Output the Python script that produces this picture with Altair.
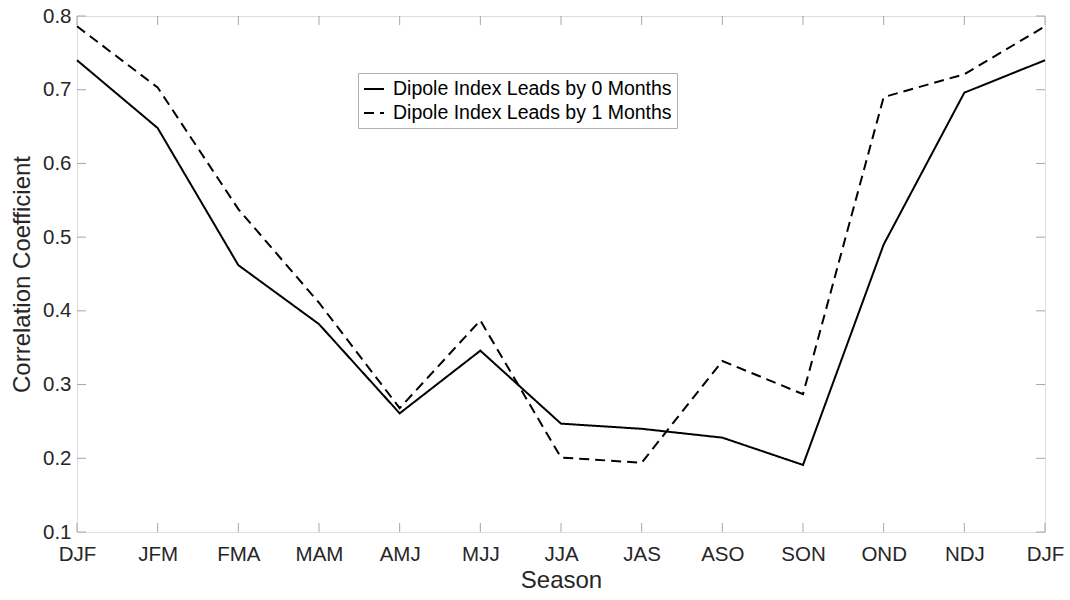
import altair as alt
import pandas as pd

seasons = ["DJF", "JFM", "FMA", "MAM", "AMJ", "MJJ", "JJA", "JAS", "ASO", "SON", "OND", "NDJ", "DJF"]
lead0 = [0.740, 0.648, 0.462, 0.382, 0.261, 0.346, 0.247, 0.240, 0.228, 0.191, 0.490, 0.696, 0.740]
lead1 = [0.786, 0.703, 0.538, 0.411, 0.268, 0.387, 0.201, 0.194, 0.332, 0.287, 0.690, 0.721, 0.786]
series_names = ["Dipole Index Leads by 0 Months", "Dipole Index Leads by 1 Months"]
y_ticks = [0.1, 0.2, 0.3, 0.4, 0.5, 0.6, 0.7, 0.8]

rows = []
for i, (a, b) in enumerate(zip(lead0, lead1)):
    rows.append({"idx": i, "season": seasons[i], "value": a, "series": series_names[0]})
    rows.append({"idx": i, "season": seasons[i], "value": b, "series": series_names[1]})
df = pd.DataFrame(rows)

W, H = 968, 516
FONT = "Liberation Sans"
TXT = "#262626"
AX = "#a6a6a6"
label_expr = "[" + ",".join(f"'{s}'" for s in seasons) + "][datum.value]"

xs = alt.Scale(domain=[0, len(seasons) - 1], nice=False)
ys = alt.Scale(domain=[0.1, 0.8], nice=False, zero=False)

lines = alt.Chart(df).mark_line(color="black", strokeWidth=2).encode(
    x=alt.X("idx:Q", scale=xs,
            axis=alt.Axis(values=list(range(len(seasons))), labelExpr=label_expr, title="Season",
                          ticks=False, grid=False, domain=False, labelFontSize=20.5,
                          labelColor=TXT, labelFont=FONT, labelPadding=12, titleFontSize=24,
                          titleColor=TXT, titleFont=FONT, titleFontWeight="normal",
                          titlePadding=4, labelFlush=False)),
    y=alt.Y("value:Q", scale=ys,
            axis=alt.Axis(values=y_ticks, format=".1f", title="Correlation Coefficient",
                          ticks=False, grid=False, domain=False, labelFontSize=20.5,
                          labelColor=TXT, labelFont=FONT, labelPadding=6, titleFontSize=24,
                          titleColor=TXT, titleFont=FONT, titleFontWeight="normal",
                          titlePadding=8, labelFlush=False)),
    strokeDash=alt.StrokeDash(
        "series:N",
        scale=alt.Scale(domain=series_names, range=[[1, 0], [10, 6]]),
        legend=alt.Legend(title=None, orient="none", legendX=281, legendY=57,
                          symbolType="stroke", symbolSize=400, symbolStrokeWidth=2,
                          symbolStrokeColor="black", labelFontSize=19.5, labelFont=FONT,
                          labelColor="black", fillColor="white", strokeColor="#b0b0b0",
                          padding=5, rowPadding=3, labelOffset=8, labelLimit=400),
    ),
    order="idx:Q",
)

# inward tick marks on all four sides of the box
tick_len = 9
xt = pd.DataFrame({"idx": list(range(len(seasons)))})
yt = pd.DataFrame({"value": y_ticks})
xticks_bottom = alt.Chart(xt).mark_rule(color=AX, strokeWidth=1).encode(
    x=alt.X("idx:Q", scale=xs), y=alt.value(H), y2=alt.value(H - tick_len))
xticks_top = alt.Chart(xt).mark_rule(color=AX, strokeWidth=1).encode(
    x=alt.X("idx:Q", scale=xs), y=alt.value(0), y2=alt.value(tick_len))
yticks_left = alt.Chart(yt).mark_rule(color=AX, strokeWidth=1).encode(
    y=alt.Y("value:Q", scale=ys), x=alt.value(0), x2=alt.value(tick_len))
yticks_right = alt.Chart(yt).mark_rule(color=AX, strokeWidth=1).encode(
    y=alt.Y("value:Q", scale=ys), x=alt.value(W), x2=alt.value(W - tick_len))

chart = alt.layer(xticks_bottom, xticks_top, yticks_left, yticks_right, lines).properties(
    width=W, height=H,
    autosize=alt.AutoSizeParams(type="none"),
    padding={"left": 77, "top": 16, "right": 25, "bottom": 68},
).configure_view(stroke=AX, strokeWidth=1.5).configure(background="white")

chart.save("out.html", embed_options={"renderer": "svg", "actions": False})
